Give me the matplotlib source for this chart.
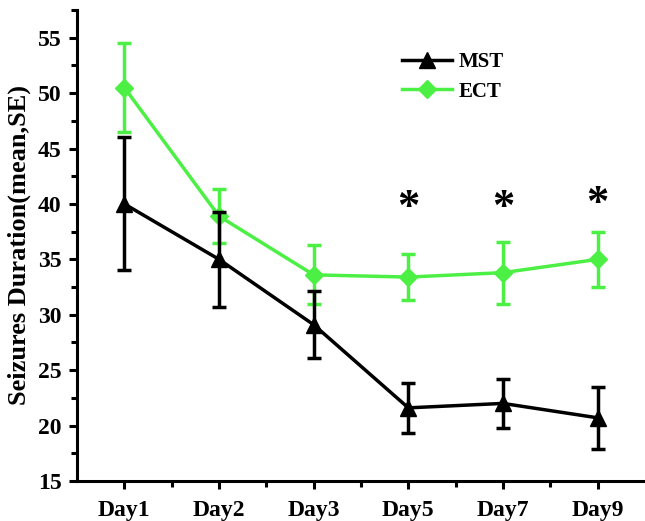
import matplotlib
matplotlib.use('Agg')
import matplotlib.pyplot as plt
from matplotlib.ticker import MultipleLocator

days = ['Day1', 'Day2', 'Day3', 'Day5', 'Day7', 'Day9']
mst_mean = [40.0, 35.0, 29.1, 21.6, 22.0, 20.7]
mst_se = [6.0, 4.3, 3.0, 2.25, 2.2, 2.8]
ect_mean = [50.5, 38.9, 33.6, 33.4, 33.8, 35.0]
ect_se = [4.05, 2.45, 2.65, 2.1, 2.8, 2.5]
star_days = [3, 4, 5]
star_y = [39.6, 39.6, 40.0]

plt.rcParams['font.family'] = ['Liberation Serif', 'DejaVu Serif']
plt.rcParams['font.weight'] = 'bold'

fig = plt.figure(figsize=(6.45, 5.21), dpi=100)
ax = fig.add_axes([0.1194, 0.0768, 0.8806, 0.904])
x = list(range(len(days)))

green = '#4cf044'
ax.errorbar(x, mst_mean, yerr=mst_se, color='black', marker='^', markersize=11,
            linewidth=2.5, elinewidth=2.5, capsize=5, capthick=2.5, label='MST', zorder=3)
ax.errorbar(x, ect_mean, yerr=ect_se, color=green, marker='D', markersize=9,
            linewidth=2.5, elinewidth=2.5, capsize=5, capthick=2.5, label='ECT', zorder=2)

for d, sy in zip(star_days, star_y):
    ax.text(d, sy, '*', ha='center', va='center', fontsize=32, fontweight='bold')

ax.set_xlim(-0.5, 5.5)
ax.set_ylim(15, 57.5)
ax.set_xticks(x)
ax.set_xticklabels(days)
ax.set_xticks([i + 0.5 for i in x[:-1]], minor=True)
ax.yaxis.set_major_locator(MultipleLocator(5))
ax.yaxis.set_minor_locator(MultipleLocator(2.5))
ax.tick_params(axis='both', which='major', direction='out', length=6, width=2.2, labelsize=17)
ax.tick_params(axis='x', which='major', pad=8)
ax.tick_params(axis='y', which='major', pad=5)
ax.tick_params(axis='both', which='minor', direction='out', length=4, width=2.2)
for lab in ax.get_xticklabels() + ax.get_yticklabels():
    lab.set_fontweight('bold')

ax.spines['top'].set_visible(False)
ax.spines['right'].set_visible(False)
ax.spines['left'].set_linewidth(2.2)
ax.spines['bottom'].set_linewidth(2.2)

ax.set_ylabel('Seizures Duration(mean,SE)', fontsize=19, fontweight='bold', labelpad=5)

handles, labels = ax.get_legend_handles_labels()
handles = [h[0] for h in handles]
ax.legend(handles, labels, loc='upper left', bbox_to_anchor=(0.54, 0.95), frameon=False,
          prop={'size': 15, 'weight': 'bold'}, handlelength=2.4, handletextpad=0.3, labelspacing=0.45)

plt.savefig('out.png', dpi=100)
